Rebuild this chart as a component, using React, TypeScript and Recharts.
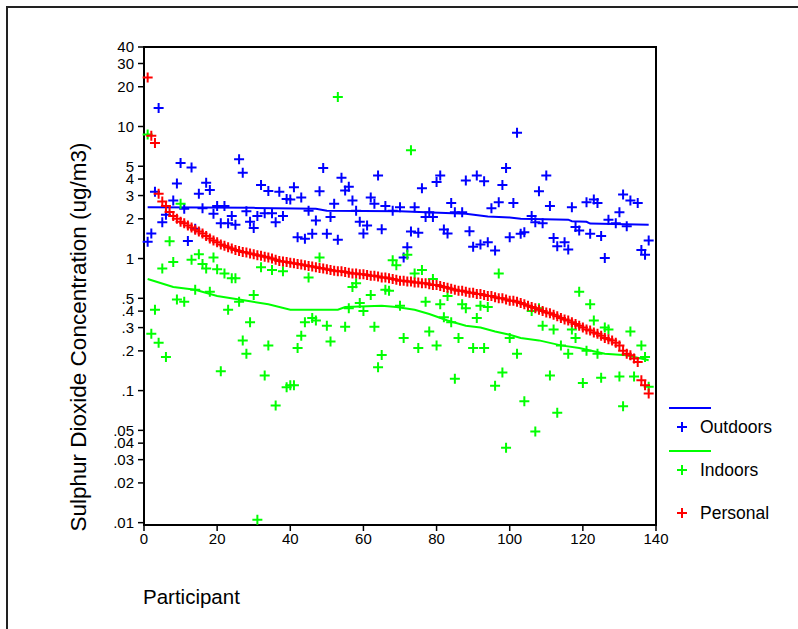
import { ComposedChart, Scatter, XAxis, YAxis, ReferenceArea } from 'recharts'

// personal exposure, participants sorted by it (participant 1..138)
const personal = [
  23.5, 8.5, 7.5, 3.1, 2.7, 2.5, 2.25, 2.1, 2.0, 1.9,
  1.85, 1.78, 1.72, 1.65, 1.6, 1.55, 1.48, 1.42, 1.37, 1.33,
  1.28, 1.25, 1.22, 1.19, 1.16, 1.14, 1.12, 1.11, 1.09, 1.08,
  1.06, 1.05, 1.03, 1.02, 1.0, 0.98, 0.96, 0.95, 0.94, 0.93,
  0.92, 0.91, 0.9, 0.89, 0.88, 0.87, 0.86, 0.85, 0.84, 0.83,
  0.82, 0.81, 0.8, 0.8, 0.79, 0.78, 0.77, 0.77, 0.76, 0.76,
  0.75, 0.74, 0.74, 0.73, 0.72, 0.72, 0.71, 0.7, 0.69, 0.68,
  0.68, 0.67, 0.67, 0.66, 0.66, 0.65, 0.65, 0.64, 0.63, 0.63,
  0.62, 0.61, 0.6, 0.59, 0.58, 0.57, 0.57, 0.56, 0.55, 0.55,
  0.54, 0.54, 0.53, 0.52, 0.52, 0.51, 0.5, 0.5, 0.49, 0.48,
  0.48, 0.47, 0.46, 0.45, 0.44, 0.43, 0.42, 0.41, 0.4, 0.39,
  0.385, 0.375, 0.365, 0.355, 0.345, 0.34, 0.33, 0.32, 0.31, 0.3,
  0.29, 0.285, 0.275, 0.27, 0.26, 0.25, 0.245, 0.24, 0.23, 0.22,
  0.2, 0.19, 0.185, 0.175, 0.165, 0.12, 0.11, 0.095,
]

const outdoorsIds = [
  1, 2, 3, 4, 5, 6, 8, 9, 10, 11, 12, 13, 14, 15, 16, 17, 18, 19, 20, 21,
  22, 23, 24, 25, 26, 27, 28, 29, 30, 31, 32, 33, 34, 35, 36, 37, 38, 39, 40, 41,
  42, 43, 44, 45, 46, 47, 48, 49, 50, 51, 52, 53, 54, 55, 56, 57, 58, 59, 60, 61,
  62, 63, 64, 65, 66, 68, 70, 71, 72, 73, 74, 75, 76, 77, 78, 79, 80, 81, 82, 83,
  84, 85, 87, 88, 89, 90, 91, 92, 93, 94, 95, 96, 97, 98, 99, 100, 101, 102, 103, 104,
  106, 107, 108, 109, 110, 111, 112, 113, 115, 116, 117, 118, 119, 121, 122, 123, 124, 125, 126, 127,
  129, 130, 131, 132, 133, 135, 136, 137, 138,
]
const outdoorsValues = [
  1.34, 1.55, 3.2, 13.8, 1.88, 2.15, 2.75, 3.7, 5.3, 2.38, 1.36, 4.9, 1.68, 3.1, 2.4, 3.75, 3.3, 2.18, 2.5, 1.85,
  2.5, 1.85, 2.1, 1.8, 5.65, 4.46, 2.28, 1.9, 1.7, 2.1, 3.6, 2.2, 3.25, 2.2, 1.88, 3.2, 2.1, 2.83, 2.8, 3.47,
  1.45, 2.9, 1.41, 2.3, 1.54, 1.94, 3.24, 4.86, 1.54, 2.06, 2.6, 1.39, 4.1, 3.27, 3.5, 2.75, 2.3, 1.9, 1.55, 1.78,
  2.9, 2.6, 4.25, 1.67, 2.5, 2.3, 2.45, 1.02, 1.22, 1.6, 2.45, 1.57, 3.4, 2.06, 2.24, 2.06, 3.8, 4.25, 1.66, 1.55,
  2.64, 2.24, 2.24, 3.9, 1.61, 1.23, 4.25, 1.28, 3.85, 1.33, 2.4, 1.15, 2.67, 3.6, 4.86, 1.45, 2.63, 8.95, 1.54, 1.58,
  2.1, 1.88, 3.24, 1.85, 4.25, 2.5, 1.43, 1.24, 1.33, 1.17, 2.45, 1.73, 1.63, 2.67, 1.54, 2.8, 2.63, 1.48, 1.01, 1.97,
  1.85, 2.24, 3.05, 1.76, 2.75, 2.63, 1.16, 1.07, 1.37,
]

const indoorsIds = [
  1, 2, 3, 4, 5, 6, 7, 8, 9, 10, 11, 13, 14, 15, 16, 17, 18, 19, 20, 21,
  22, 23, 24, 25, 26, 27, 28, 29, 30, 31, 32, 33, 34, 35, 36, 38, 39, 40, 41, 42,
  43, 44, 45, 46, 47, 48, 50, 51, 53, 55, 56, 57, 58, 59, 60, 62, 63, 64, 65, 66,
  67, 68, 69, 70, 71, 72, 73, 74, 75, 76, 77, 78, 79, 80, 81, 82, 83, 84, 85, 86,
  87, 88, 90, 91, 92, 93, 94, 96, 97, 98, 99, 100, 102, 104, 106, 107, 108, 109, 111, 112,
  113, 114, 116, 117, 118, 119, 120, 121, 122, 123, 124, 125, 126, 127, 130, 131, 133, 134, 136, 137,
  138,
]
const indoorsValues = [
  8.7, 0.27, 0.41, 0.23, 0.84, 0.18, 1.35, 0.94, 0.49, 2.6, 0.47, 0.98, 0.58, 1.08, 0.91, 0.84, 0.56, 1.02, 0.83, 0.14,
  0.77, 0.41, 0.71, 0.71, 0.47, 0.24, 0.19, 0.33, 0.53, 0.0105, 0.86, 0.13, 0.22, 0.82, 0.077, 0.8, 0.106, 0.11, 0.11, 0.21,
  0.26, 0.33, 0.72, 0.355, 0.34, 1.02, 0.31, 0.235, 16.7, 0.305, 0.42, 0.61, 0.65, 0.46, 0.4, 0.53, 0.305, 0.15, 0.186, 0.58,
  0.57, 0.97, 0.89, 0.44, 0.25, 1.07, 6.6, 0.77, 0.21, 0.82, 0.47, 0.28, 0.7, 0.22, 0.45, 0.36, 0.52, 0.33, 0.123, 0.25,
  0.45, 0.42, 0.21, 0.355, 0.44, 0.21, 0.43, 0.109, 0.77, 0.137, 0.037, 0.25, 0.19, 0.083, 0.4, 0.049, 0.42, 0.31, 0.13, 0.29,
  0.068, 0.22, 0.19, 0.29, 0.25, 0.56, 0.114, 0.2, 0.45, 0.34, 0.19, 0.125, 0.3, 0.29, 0.128, 0.076, 0.28, 0.128, 0.22, 0.18,
  0.107,
]

// fitted trend lines
const outdoorsTrendIds = [1, 30, 47, 50, 70, 77, 88, 94, 100, 103, 116, 117, 121, 122, 138]
const outdoorsTrendValues = [2.45, 2.42, 2.38, 2.3, 2.28, 2.24, 2.18, 2.08, 2.05, 2.0, 1.97, 1.92, 1.9, 1.84, 1.8]
const indoorsTrendIds = [1, 8, 14, 20, 26, 29, 34, 40, 53, 55, 65, 69, 74, 78, 83, 88, 92, 96, 100, 103, 108, 114, 119, 126, 132, 138]
const indoorsTrendValues = [0.7, 0.61, 0.58, 0.52, 0.49, 0.475, 0.45, 0.41, 0.41, 0.43, 0.44, 0.43, 0.41, 0.38, 0.34, 0.31, 0.3, 0.28, 0.265, 0.25, 0.24, 0.22, 0.21, 0.19, 0.185, 0.17]

const xTicks = [0, 20, 40, 60, 80, 100, 120, 140]
const yTicks = [0.01, 0.02, 0.03, 0.04, 0.05, 0.1, 0.2, 0.3, 0.4, 0.5, 1, 2, 3, 4, 5, 10, 20, 30, 40]

const BLUE = '#0000ff'
const GREEN = '#00ff00'
const RED = '#ff0000'
const FONT = '"Liberation Sans", Arial, sans-serif'

const pairs = (ids: number[], vals: number[]) => ids.map((x, i) => ({ x, y: vals[i] }))
const personalPts = personal.map((y, i) => ({ x: i + 1, y }))
const outdoorsPts = pairs(outdoorsIds, outdoorsValues)
const indoorsPts = pairs(indoorsIds, indoorsValues)
const outdoorsTrend = pairs(outdoorsTrendIds, outdoorsTrendValues)
const indoorsTrend = pairs(indoorsTrendIds, indoorsTrendValues)

const plus = (color: string) => (props: any) => {
  const { cx, cy } = props
  if (cx == null || cy == null) return <g />
  return (
    <path
      d={`M${cx - 5},${cy}H${cx + 5}M${cx},${cy - 5}V${cy + 5}`}
      stroke={color}
      strokeWidth={2}
      fill="none"
    />
  )
}
const noDot = () => <g />

const fmt = (v: number) => (v < 1 ? String(v).replace(/^0/, '') : String(v))

function LegendBox() {
  const items = [
    { name: 'Outdoors', color: BLUE, line: true },
    { name: 'Indoors', color: GREEN, line: true },
    { name: 'Personal', color: RED, line: false },
  ]
  return (
    <svg width={130} height={130} style={{ position: 'absolute', left: 665, top: 398 }}>
      {items.map((it, i) => {
        const y = 29 + i * 43
        return (
          <g key={it.name}>
            {it.line && <line x1={4} x2={46} y1={y - 19} y2={y - 19} stroke={it.color} strokeWidth={2} />}
            <path d={`M${12},${y}H${22}M${17},${y - 5}V${y + 5}`} stroke={it.color} strokeWidth={2} />
            <text x={35} y={y} dominantBaseline="central" fontSize={17.5} fontFamily={FONT} fill="#000">
              {it.name}
            </text>
          </g>
        )
      })}
    </svg>
  )
}

export default function App() {
  return (
    <div style={{ position: 'absolute', left: 0, top: 0, width: 798, height: 629, overflow: 'hidden', background: '#fff' }}>
      <div style={{ position: 'absolute', left: 6, top: 6, width: 900, height: 800, border: '2px solid #222' }} />
      <ComposedChart
        width={798}
        height={629}
        margin={{ top: 47, right: 142, bottom: 19, left: 0 }}
        style={{ position: 'absolute', left: 0, top: 0 }}
      >
        <XAxis
          dataKey="x"
          type="number"
          domain={[0, 140]}
          ticks={xTicks}
          interval={0}
          height={85}
          tickSize={6}
          axisLine={{ stroke: '#000', strokeWidth: 2 }}
          tickLine={{ stroke: '#000', strokeWidth: 1.5 }}
          tick={{ fill: '#000', fontSize: 15, fontFamily: FONT }}
          label={{
            content: () => (
              <text x={143} y={604} fontSize={20.5} fontFamily={FONT} fill="#000">
                Participant
              </text>
            ),
          }}
        />
        <YAxis
          dataKey="y"
          type="number"
          scale="log"
          domain={[0.0096, 40]}
          allowDataOverflow
          ticks={yTicks}
          interval={0}
          width={144}
          tickSize={6}
          tickMargin={4}
          tickFormatter={fmt}
          axisLine={{ stroke: '#000', strokeWidth: 2 }}
          tickLine={{ stroke: '#000', strokeWidth: 1.5 }}
          tick={{ fill: '#000', fontSize: 15, fontFamily: FONT }}
          label={{
            content: () => (
              <text
                transform="translate(86,337) rotate(-90)"
                textAnchor="middle"
                fontSize={22.5}
                fontFamily={FONT}
                fill="#000"
              >
                Sulphur Dioxide Concentration (ug/m3)
              </text>
            ),
          }}
        />
        <ReferenceArea x1={0} x2={140} y1={0.0096} y2={40} fill="none" stroke="#000" strokeWidth={2} />
        <Scatter data={outdoorsTrend} line={{ stroke: BLUE, strokeWidth: 2 }} lineType="joint" shape={noDot} isAnimationActive={false} />
        <Scatter data={indoorsTrend} line={{ stroke: GREEN, strokeWidth: 2 }} lineType="joint" shape={noDot} isAnimationActive={false} />
        <Scatter data={outdoorsPts} shape={plus(BLUE)} isAnimationActive={false} />
        <Scatter data={indoorsPts} shape={plus(GREEN)} isAnimationActive={false} />
        <Scatter data={personalPts} shape={plus(RED)} isAnimationActive={false} />
      </ComposedChart>
      <LegendBox />
    </div>
  )
}
